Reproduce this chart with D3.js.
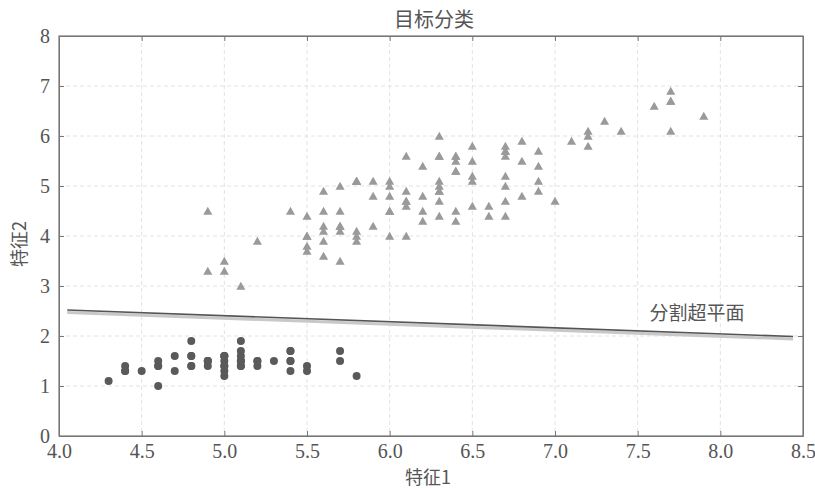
<!DOCTYPE html>
<html lang="zh">
<head>
<meta charset="UTF-8">
<title>目标分类</title>
<style>
  body { margin: 0; background: #fff; }
  svg text { font-family: "Liberation Serif", "Noto Sans CJK SC", serif; fill: #555; }
  .cjk { font-family: "Noto Sans CJK SC", sans-serif; }
  .axis path, .axis line { stroke: #777; }
</style>
</head>
<body>
<div id="chart"></div>
<script src="https://cdnjs.cloudflare.com/ajax/libs/d3/7.8.5/d3.min.js"></script>
<script>
// iris: sepal length (特征1) vs petal length (特征2)
const setosaX = [5.1,4.9,4.7,4.6,5.0,5.4,4.6,5.0,4.4,4.9,5.4,4.8,4.8,4.3,5.8,5.7,5.4,5.1,5.7,5.1,
                 5.4,5.1,4.6,5.1,4.8,5.0,5.0,5.2,5.2,4.7,4.8,5.4,5.2,5.5,4.9,5.0,5.5,4.9,4.4,5.1,
                 5.0,4.5,4.4,5.0,5.1,4.8,5.1,4.6,5.3,5.0];
const setosaY = [1.4,1.4,1.3,1.5,1.4,1.7,1.4,1.5,1.4,1.5,1.5,1.6,1.4,1.1,1.2,1.5,1.3,1.4,1.7,1.5,
                 1.7,1.5,1.0,1.7,1.9,1.6,1.6,1.5,1.4,1.6,1.6,1.5,1.5,1.4,1.5,1.2,1.3,1.5,1.3,1.5,
                 1.3,1.3,1.3,1.6,1.9,1.4,1.6,1.4,1.5,1.4];
const otherX = [7.0,6.4,6.9,5.5,6.5,5.7,6.3,4.9,6.6,5.2,5.0,5.9,6.0,6.1,5.6,6.7,5.6,5.8,6.2,5.6,
                5.9,6.1,6.3,6.1,6.4,6.6,6.8,6.7,6.0,5.7,5.5,5.5,5.8,6.0,5.4,6.0,6.7,6.3,5.6,5.5,
                5.5,6.1,5.8,5.0,5.6,5.7,5.7,6.2,5.1,5.7,
                6.3,5.8,7.1,6.3,6.5,7.6,4.9,7.3,6.7,7.2,6.5,6.4,6.8,5.7,5.8,6.4,6.5,7.7,7.7,6.0,
                6.9,5.6,7.7,6.3,6.7,7.2,6.2,6.1,6.4,7.2,7.4,7.9,6.4,6.3,6.1,7.7,6.3,6.4,6.0,6.9,
                6.7,6.9,5.8,6.8,6.7,6.7,6.3,6.5,6.2,5.9];
const otherY = [4.7,4.5,4.9,4.0,4.6,4.5,4.7,3.3,4.6,3.9,3.5,4.2,4.0,4.7,3.6,4.4,4.5,4.1,4.5,3.9,
                4.8,4.0,4.9,4.7,4.3,4.4,4.8,5.0,4.5,3.5,3.8,3.7,3.9,5.1,4.5,4.5,4.7,4.4,4.1,4.0,
                4.4,4.6,4.0,3.3,4.2,4.2,4.2,4.3,3.0,4.1,
                6.0,5.1,5.9,5.6,5.8,6.6,4.5,6.3,5.8,6.1,5.1,5.3,5.5,5.0,5.1,5.3,5.5,6.7,6.9,5.0,
                5.7,4.9,6.7,4.9,5.7,6.0,4.8,4.9,5.6,5.8,6.1,6.4,5.6,5.1,5.6,6.1,5.6,5.5,4.8,5.4,
                5.6,5.1,5.1,5.9,5.7,5.2,5.0,5.2,5.4,5.1];
// separating line end points
const lineX = [4.05, 8.44];
const lineY = [2.52, 1.99];
const xTicks = [4.0,4.5,5.0,5.5,6.0,6.5,7.0,7.5,8.0,8.5];
const yTicks = [0,1,2,3,4,5,6,7,8];

const W = 815, H = 488;
const margin = { top: 36, right: 12, bottom: 52, left: 59 };
const width = W - margin.left - margin.right;
const height = H - margin.top - margin.bottom;

const svg = d3.select("#chart").append("svg")
    .attr("width", W).attr("height", H);
const g = svg.append("g")
    .attr("transform", `translate(${margin.left},${margin.top})`);

const x = d3.scaleLinear().domain([4.0, 8.5]).range([0, width]);
const y = d3.scaleLinear().domain([0, 8]).range([height, 0]);

// grid
g.append("g").selectAll("line").data(xTicks.slice(1, -1)).join("line")
    .attr("x1", d => x(d)).attr("x2", d => x(d)).attr("y1", 0).attr("y2", height)
    .attr("stroke", "#e2e2e2").attr("stroke-dasharray", "4,3");
g.append("g").selectAll("line").data(yTicks.slice(1, -1)).join("line")
    .attr("y1", d => y(d)).attr("y2", d => y(d)).attr("x1", 0).attr("x2", width)
    .attr("stroke", "#e2e2e2").attr("stroke-dasharray", "4,3");

// axes, ticks pointing inward
const fmt = d3.format(".1f");
g.append("g").attr("class", "axis").attr("transform", `translate(0,${height})`)
    .call(d3.axisBottom(x).tickValues(xTicks).tickFormat(fmt).tickSizeInner(-5).tickSizeOuter(0))
    .call(a => a.selectAll("text").attr("font-size", 20).attr("y", 22).attr("dy", null)
        .attr("font-family", "Liberation Serif"));
g.append("g").attr("class", "axis")
    .call(d3.axisLeft(y).tickValues(yTicks).tickFormat(d3.format("d")).tickSizeInner(-5).tickSizeOuter(0))
    .call(a => a.selectAll("text").attr("font-size", 20).attr("x", -9).attr("dy", "0.33em")
        .attr("font-family", "Liberation Serif"));
g.append("g").attr("class", "axis")
    .call(d3.axisTop(x).tickValues(xTicks).tickFormat("").tickSizeInner(-5).tickSizeOuter(0));
g.append("g").attr("class", "axis").attr("transform", `translate(${width},0)`)
    .call(d3.axisRight(y).tickValues(yTicks).tickFormat("").tickSizeInner(-5).tickSizeOuter(0));
g.append("rect").attr("width", width).attr("height", height)
    .attr("fill", "none").attr("stroke", "#777").attr("stroke-width", 1.2);

// separating hyperplane (with soft shadow)
const pts = lineX.map((d, i) => [x(d), y(lineY[i])]);
const line = d3.line();
g.append("path").attr("d", line(pts)).attr("transform", "translate(0,2.5)")
    .attr("stroke", "#c8c8c8").attr("stroke-width", 3).attr("fill", "none");
g.append("path").attr("d", line(pts))
    .attr("stroke", "#555").attr("stroke-width", 1.6).attr("fill", "none");

// points
g.append("g").selectAll("circle").data(setosaX).join("circle")
    .attr("cx", d => x(d)).attr("cy", (d, i) => y(setosaY[i])).attr("r", 4)
    .attr("fill", "#5a5a5a");
const tri = d3.symbol().type(d3.symbolTriangle).size(36);
g.append("g").selectAll("path").data(otherX).join("path")
    .attr("d", tri)
    .attr("transform", (d, i) => `translate(${x(d)},${y(otherY[i]) + 1})`)
    .attr("fill", "#9a9a9a");

// labels
svg.append("text").attr("class", "cjk").attr("x", 434).attr("y", 27)
    .attr("text-anchor", "middle").attr("font-size", 20).text("目标分类");
svg.append("text").attr("class", "cjk").attr("x", 428).attr("y", 484)
    .attr("text-anchor", "middle").attr("font-size", 18).text("特征1");
svg.append("text").attr("class", "cjk")
    .attr("transform", "translate(26,244) rotate(-90)")
    .attr("text-anchor", "middle").attr("font-size", 18).text("特征2");
svg.append("text").attr("class", "cjk").attr("x", 697).attr("y", 320)
    .attr("text-anchor", "middle").attr("font-size", 19).attr("fill", "#444").text("分割超平面");
</script>
</body>
</html>
